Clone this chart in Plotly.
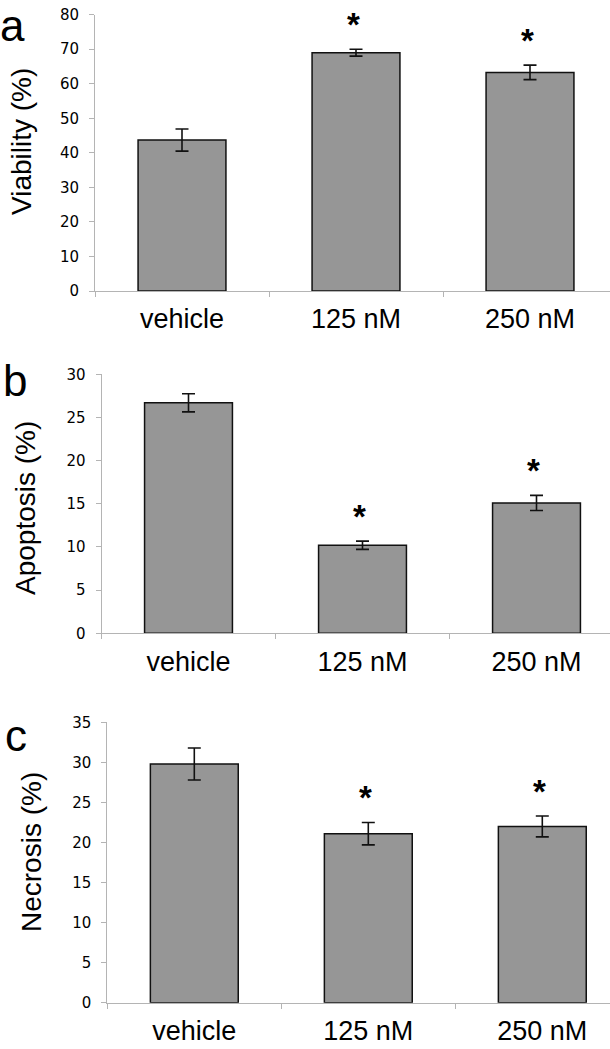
import plotly.graph_objects as go

categories = ["vehicle", "125 nM", "250 nM"]

viability = [43.7, 69.0, 63.3]
viability_err = [3.2, 1.0, 2.1]
viability_sig = [False, True, True]

apoptosis = [26.7, 10.2, 15.1]
apoptosis_err = [1.05, 0.48, 0.88]
apoptosis_sig = [False, True, True]

necrosis = [29.8, 21.1, 22.0]
necrosis_err = [2.0, 1.4, 1.3]
necrosis_sig = [False, True, True]

panel_letters = ["a", "b", "c"]
y_titles = ["Viability (%)", "Apoptosis (%)", "Necrosis (%)"]
y_max = [80, 30, 35]
y_dtick = [10, 5, 5]

W, H = 610, 1049
CAT_W = 174.0
# pixel geometry of each panel: (axis left x, top y, bottom y)
geom = [(95.0, 14.7, 291.0), (101.5, 374.3, 633.3), (107.3, 722.3, 1002.7)]
title_pos = [(21, 142), (25, 508), (31, 852)]
letter_pos = [(12, 0, "top"), (15, 380, "middle"), (16, 735, "middle")]

BAR_COLOR = "#969696"
AX_COLOR = "#b4b4b4"
FONT = "Liberation Sans, Arial, sans-serif"

fig = go.Figure()
data = [
    (viability, viability_err, viability_sig),
    (apoptosis, apoptosis_err, apoptosis_sig),
    (necrosis, necrosis_err, necrosis_sig),
]

annotations = []
for i, (vals, errs, sigs) in enumerate(data):
    n = "" if i == 0 else str(i + 1)
    left, top, bottom = geom[i]
    fig.add_trace(go.Bar(
        x=categories, y=vals, width=0.505,
        marker=dict(color=BAR_COLOR, line=dict(color="#111111", width=1.5)),
        error_y=dict(type="data", array=errs, visible=True, color="#111111",
                     thickness=1.6, width=6.5),
        xaxis="x" + n, yaxis="y" + n, showlegend=False, hoverinfo="skip",
    ))
    xr = -0.5 + (W - left) / CAT_W
    fig.layout["xaxis" + n] = dict(
        domain=[left / W, 1.0], range=[-0.5, xr], anchor="y" + n,
        type="category", showline=True, linecolor=AX_COLOR, linewidth=1,
        ticks="outside", tickson="boundaries", ticklen=5, tickcolor=AX_COLOR,
        tickfont=dict(family=FONT, size=27, color="#000000"),
        showgrid=False, zeroline=False, fixedrange=True, ticklabelstandoff=4,
        automargin=False,
    )
    fig.layout["yaxis" + n] = dict(
        domain=[1 - bottom / H, 1 - top / H], range=[0, y_max[i]], anchor="x" + n,
        dtick=y_dtick[i], tick0=0, showline=True, linecolor=AX_COLOR, linewidth=1,
        ticks="outside", ticklen=5, tickcolor=AX_COLOR,
        tickfont=dict(family="DejaVu Sans, sans-serif", size=15, color="#000000"),
        showgrid=False, zeroline=False, fixedrange=True, ticklabelstandoff=7,
        automargin=False,
    )
    for c, v, e, s in zip(categories, vals, errs, sigs):
        if s:
            annotations.append(dict(
                x=c, y=v + e, xref="x" + n, yref="y" + n, text="<b>*</b>",
                showarrow=False, yanchor="middle", xanchor="center", xshift=-3,
                yshift=25, font=dict(family=FONT, size=33, color="#000000"),
            ))
    tx, ty = title_pos[i]
    annotations.append(dict(
        x=tx / W, y=1 - ty / H, xref="paper", yref="paper", text=y_titles[i],
        textangle=-90, showarrow=False, xanchor="center", yanchor="middle",
        font=dict(family=FONT, size=28, color="#000000"),
    ))
    lx, ly, lanchor = letter_pos[i]
    annotations.append(dict(
        x=lx / W, y=1 - ly / H, xref="paper", yref="paper", text=panel_letters[i],
        showarrow=False, xanchor="center", yanchor=lanchor,
        borderpad=0, font=dict(family=FONT, size=44, color="#000000"),
    ))

fig.update_layout(
    width=W, height=H,
    margin=dict(l=0, r=0, t=0, b=0, pad=0, autoexpand=False),
    paper_bgcolor="white", plot_bgcolor="white",
    annotations=annotations,
)

fig.write_html(
    "out.html",
    config={"displayModeBar": False},
    post_script="document.body.style.margin='0';document.body.style.overflow='hidden';",
)
